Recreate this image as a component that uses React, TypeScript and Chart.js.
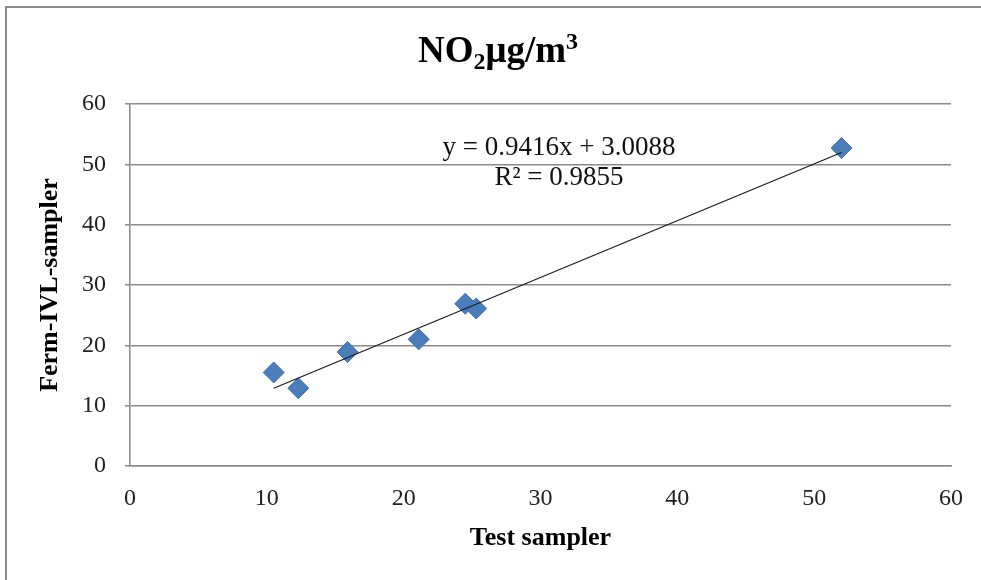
import React, { useEffect, useRef } from "react";
import { Chart, registerables } from "chart.js";

Chart.register(...registerables);

// Data
const TEST_SAMPLER = [10.5, 12.3, 15.9, 21.1, 24.5, 25.3, 52.0];
const FERM_IVL_SAMPLER = [15.5, 12.9, 18.9, 21.0, 26.9, 26.1, 52.7];
const TREND_SLOPE = 0.9416;
const TREND_INTERCEPT = 3.0088;
const R_SQUARED = "0.9855";
const X_TICKS = [0, 10, 20, 30, 40, 50, 60];
const Y_TICKS = [0, 10, 20, 30, 40, 50, 60];

const SERIF = "'Liberation Serif', 'Times New Roman', serif";

const framePlugin = {
  id: "frame",
  beforeDraw(chart: any) {
    const { ctx, width, height } = chart;
    ctx.save();
    ctx.fillStyle = "#ffffff";
    ctx.fillRect(0, 0, width, height);
    ctx.strokeStyle = "#8a8a8a";
    ctx.lineWidth = 2;
    ctx.beginPath();
    ctx.moveTo(6, height);
    ctx.lineTo(6, 7);
    ctx.lineTo(width, 7);
    ctx.stroke();
    ctx.restore();
  },
};

const titlePlugin = {
  id: "richTitle",
  afterDraw(chart: any) {
    const { ctx } = chart;
    const big = `bold 37px ${SERIF}`;
    const small = `bold 24px ${SERIF}`;
    const parts = [
      { t: "NO", f: big, dy: 0 },
      { t: "2", f: small, dy: 7 },
      { t: "\u03bcg/m", f: big, dy: 0 },
      { t: "3", f: small, dy: -13 },
    ];
    ctx.save();
    ctx.fillStyle = "#000";
    ctx.textBaseline = "alphabetic";
    let total = 0;
    const widths = parts.map((p) => {
      ctx.font = p.f;
      const w = ctx.measureText(p.t).width;
      total += w;
      return w;
    });
    let x = 498 - total / 2;
    const baseline = 62;
    parts.forEach((p, i) => {
      ctx.font = p.f;
      ctx.fillText(p.t, x, baseline + p.dy);
      x += widths[i];
    });
    ctx.restore();
  },
};

const equationPlugin = {
  id: "equation",
  afterDatasetsDraw(chart: any) {
    const { ctx } = chart;
    const sign = TREND_INTERCEPT >= 0 ? "+" : "-";
    const eq = `y = ${TREND_SLOPE}x ${sign} ${Math.abs(TREND_INTERCEPT).toFixed(4)}`;
    const r2 = `R\u00b2 = ${R_SQUARED}`;
    ctx.save();
    ctx.fillStyle = "#111";
    ctx.font = `27px ${SERIF}`;
    ctx.textAlign = "center";
    ctx.textBaseline = "alphabetic";
    ctx.fillText(eq, 559, 155);
    ctx.fillText(r2, 559, 185);
    ctx.restore();
  },
};

export default function App() {
  const ref = useRef<HTMLCanvasElement | null>(null);

  useEffect(() => {
    if (!ref.current) return;
    const points = TEST_SAMPLER.map((x, i) => ({ x, y: FERM_IVL_SAMPLER[i] }));
    const xMin = Math.min(...TEST_SAMPLER);
    const xMax = Math.max(...TEST_SAMPLER);
    const trend = [xMin, xMax].map((x) => ({ x, y: TREND_SLOPE * x + TREND_INTERCEPT }));

    const chart = new Chart(ref.current, {
      type: "scatter",
      data: {
        datasets: [
          {
            label: "Linear trend",
            data: trend,
            showLine: true,
            borderColor: "#1a1a1a",
            borderWidth: 1.2,
            pointRadius: 0,
            fill: false,
          } as any,
          {
            label: "NO2",
            data: points,
            pointStyle: "rectRot",
            pointRadius: 10.5,
            backgroundColor: "#4a7ebb",
            borderColor: "#3f72b0",
            borderWidth: 1,
          },
        ],
      },
      options: {
        responsive: false,
        animation: false,
        layout: { padding: { top: 104, right: 30, left: 0, bottom: 0 } },
        plugins: {
          legend: { display: false },
          title: { display: false },
          tooltip: { enabled: false },
        },
        scales: {
          x: {
            type: "linear",
            min: 0,
            max: 60,
            afterBuildTicks: (scale: any) => {
              scale.ticks = X_TICKS.map((v) => ({ value: v }));
            },
            afterFit: (scale: any) => {
              scale.height = 114;
            },
            grid: { display: false },
            border: { display: true, color: "#8a8a8a", width: 1.5 },
            ticks: {
              padding: 10,
              color: "#222",
              font: { family: SERIF, size: 24 },
            },
            title: {
              display: true,
              text: "Test sampler",
              color: "#000",
              font: { family: SERIF, size: 26, weight: "bold" },
              padding: { top: 0, bottom: 26 },
            },
          },
          y: {
            type: "linear",
            min: 0,
            max: 60,
            afterBuildTicks: (scale: any) => {
              scale.ticks = Y_TICKS.map((v) => ({ value: v }));
            },
            afterFit: (scale: any) => {
              scale.width = 130;
            },
            grid: {
              display: true,
              color: "#8a8a8a",
              lineWidth: 1.5,
              drawTicks: true,
              tickLength: 5,
            },
            border: { display: true, color: "#8a8a8a", width: 1.5 },
            ticks: {
              padding: 19,
              color: "#222",
              font: { family: SERIF, size: 24 },
            },
            title: {
              display: true,
              text: "Ferm-IVL-sampler",
              color: "#000",
              font: { family: SERIF, size: 26, weight: "bold" },
              padding: { top: 35, bottom: 0 },
            },
          },
        },
      },
      plugins: [framePlugin, titlePlugin, equationPlugin],
    });
    return () => chart.destroy();
  }, []);

  return (
    <div style={{ position: "absolute", left: 0, top: 0, width: 981, height: 580 }}>
      <canvas ref={ref} width={981} height={580} />
    </div>
  );
}
